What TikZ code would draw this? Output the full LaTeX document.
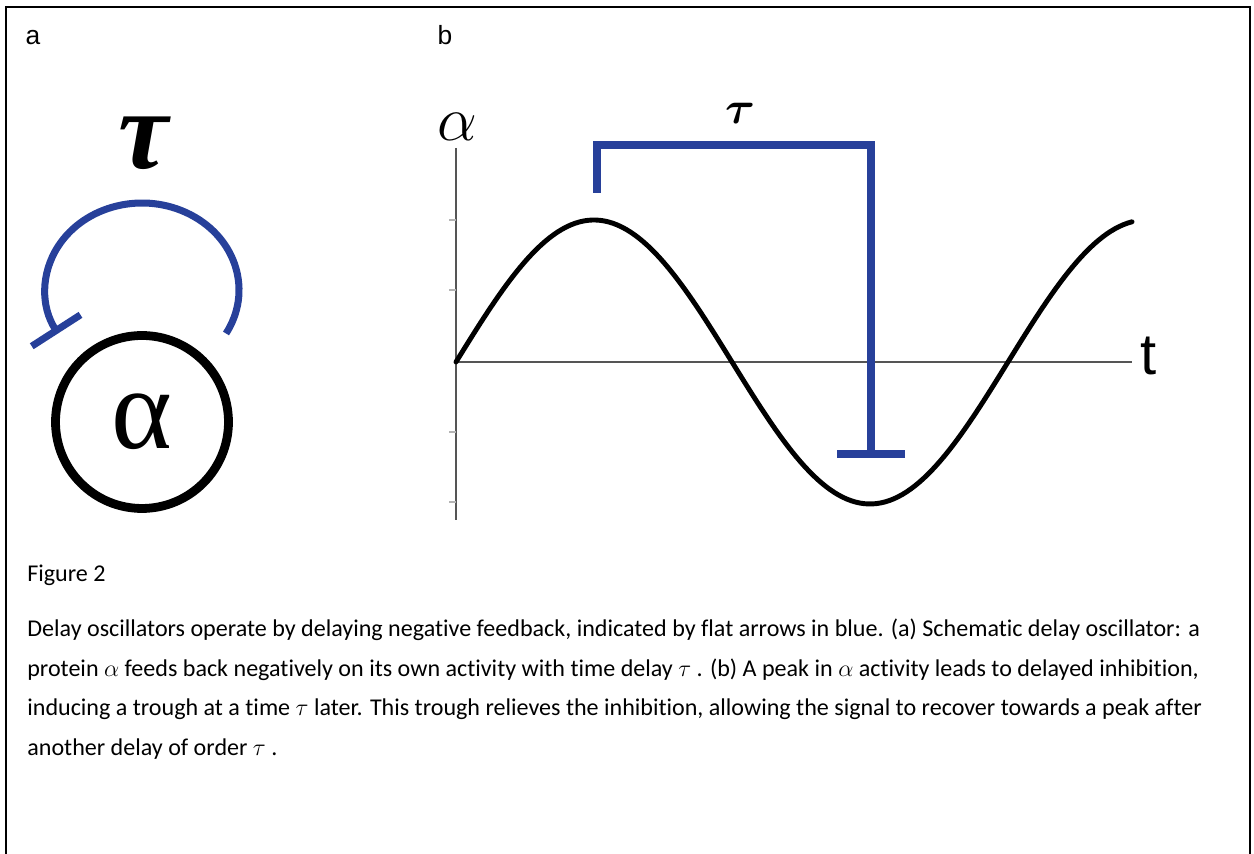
\RequirePackage{fix-cm}
\documentclass[tikz,border=0pt]{standalone}
\usepackage{amsmath}
\usepackage{fontspec}
\setmainfont{Carlito}[Ligatures=NoCommon]
\newfontfamily\labelfont{Liberation Sans}
\newfontfamily\greekfont{Liberation Serif}
\usetikzlibrary{arrows.meta,positioning}
\definecolor{inhblue}{HTML}{27409A}
\definecolor{axisgray}{HTML}{555555}
\definecolor{tickgray}{HTML}{B4B4B4}

\begin{document}
\begin{tikzpicture}[
    x=0.02cm, y=0.02cm,
    frame/.style={draw=black, line width=1.4pt},
    panel/.style={font=\labelfont\fontsize{15}{15}\selectfont, anchor=base, inner sep=0pt},
    capline/.style={font=\fontsize{13.7}{13.7}\selectfont, anchor=base west, inner sep=0pt},
    prot/.style={circle, draw=black, line width=5pt, minimum size=3.46cm, inner sep=0pt, font=\greekfont\fontsize{66}{66}\selectfont},
    inh/.style={draw=inhblue, line width=4pt, -{Bar[width=1.16cm]}},
    inhb/.style={draw=inhblue, line width=4.5pt, -{Bar[width=1.36cm]}},
    axis/.style={draw=axisgray, line width=1.1pt},
    tick/.style={draw=tickgray, line width=0.8pt},
    wave/.style={draw=black, line width=2.8pt, line cap=round}
]
\useasboundingbox (0,0) rectangle (1254,854);
\draw[frame] (6,0) |- (1250,847) -- (1250,0);

\node[panel] (lbla) at (33,809) {a};
\node[panel] (lblb) at (445,809) {b};

\node[prot] (prot) at (142,432) {α};
\node[font=\greekfont\bfseries\itshape\fontsize{64}{64}\selectfont] (taua) at (143,711) {τ};
\coordinate (fbstart) at (226,520.5);
\draw[inh] (fbstart) arc[start angle=-30, end angle=210, x radius=1.94cm, y radius=1.74cm];

\coordinate (origin) at (456,492);
\draw[axis] (456,706) -- (456,334);
\draw[axis] (origin) -- (1132,492);
\foreach \ty in {634,564,422,352}
    \draw[tick] (449,\ty) -- (456,\ty);
\node[font=\labelfont\fontsize{33}{33}\selectfont] (tlab) at (1149,498) {t};
\node[font=\fontsize{36}{36}\selectfont] (alphab) at (457,727) {$\alpha$};
\draw[wave] plot[domain=456:1132, samples=160] (\x, {492 + 142*sin((\x-456)*0.65217)});

\coordinate (peak) at (597,661);
\coordinate (trough) at (871,396);
\draw[inhb] (peak) -- ++(0,48) -| (trough);
\node[font=\fontsize{26}{26}\selectfont] (taub) at (740,741) {$\boldsymbol{\tau}$};

\node[capline] (fig) at (27,272) {Figure 2};
\node[capline] (cap1) at (27,217) {Delay oscillators operate by delaying negative feedback, indicated by flat arrows in blue. (a) Schematic delay oscillator: a};
\node[capline] (cap2) at (27,177) {protein $\alpha$ feeds back negatively on its own activity with time delay $\tau$ . (b) A peak in $\alpha$ activity leads to delayed inhibition,};
\node[capline] (cap3) at (27,138) {inducing a trough at a time $\tau$ later. This trough relieves the inhibition, allowing the signal to recover towards a peak after};
\node[capline] (cap4) at (27,98) {another delay of order $\tau$ .};
\end{tikzpicture}
\end{document}
